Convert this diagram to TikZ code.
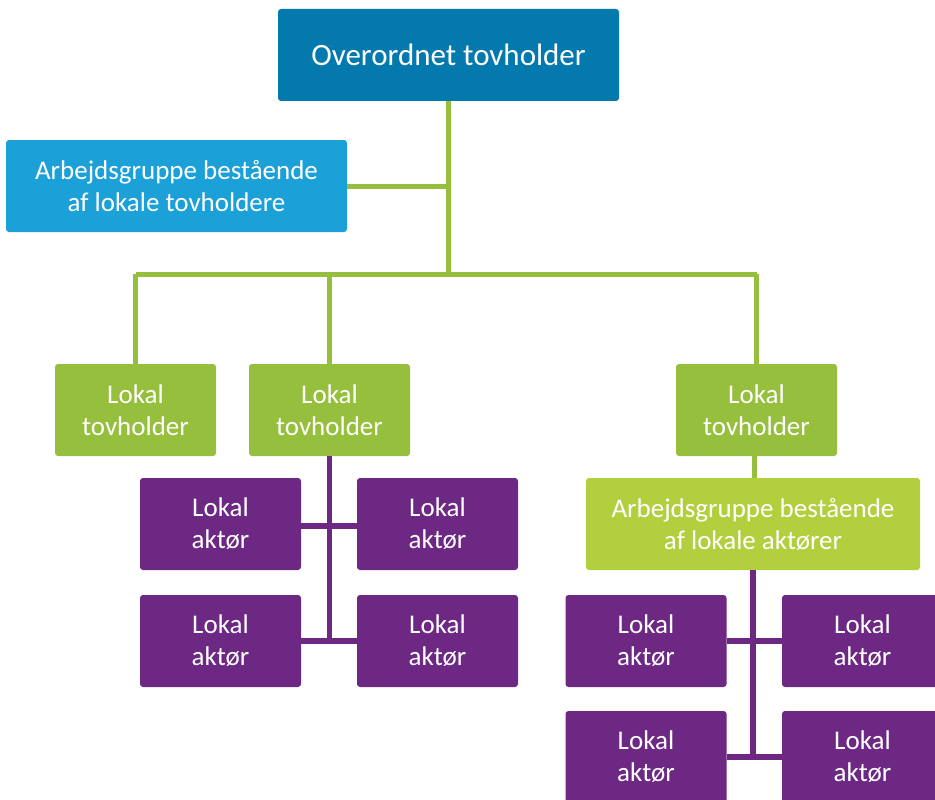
\documentclass[tikz,border=0pt]{standalone}
\usepackage{fontspec}
\setmainfont{Carlito}
\definecolor{topblue}{HTML}{0479AD}
\definecolor{lightblue}{HTML}{1BA0D8}
\definecolor{leafgreen}{HTML}{96BF3D}
\definecolor{limegreen}{HTML}{B2CF3E}
\definecolor{plum}{HTML}{6C2883}
\tikzset{
  box/.style={rectangle, rounded corners=3pt, text=white, align=center, inner sep=0pt,
    font=\fontsize{27}{32}\selectfont, minimum height=92pt},
  wide/.style={box, minimum width=341pt},
  small/.style={box, minimum width=161pt},
  gline/.style={draw=leafgreen, line width=5pt},
  pline/.style={draw=plum, line width=5.5pt},
}
\begin{document}
\begin{tikzpicture}[x=1pt,y=-1pt]
\useasboundingbox (0,0) rectangle (935,800);
\node[wide, fill=topblue, font=\fontsize{31}{36}\selectfont] (top) at (448.5,55) {Overordnet tovholder};
\node[wide, fill=lightblue] (ag) at (176.5,186) {Arbejdsgruppe bestående\\af lokale tovholdere};
\node[small, fill=leafgreen] (t1) at (135.5,410) {Lokal\\tovholder};
\node[small, fill=leafgreen] (t2) at (329.5,410) {Lokal\\tovholder};
\node[small, fill=leafgreen] (t3) at (756.5,410) {Lokal\\tovholder};
\node[small, fill=plum] (p1) at (220.5,524) {Lokal\\aktør};
\node[small, fill=plum] (p2) at (437.5,524) {Lokal\\aktør};
\node[small, fill=plum] (p3) at (220.5,641) {Lokal\\aktør};
\node[small, fill=plum] (p4) at (437.5,641) {Lokal\\aktør};
\node[box, minimum width=334pt, fill=limegreen] (lg) at (753,524) {Arbejdsgruppe bestående\\af lokale aktører};
\node[small, fill=plum] (q1) at (646,641) {Lokal\\aktør};
\node[small, fill=plum] (q2) at (862.5,641) {Lokal\\aktør};
\node[small, fill=plum] (q3) at (646,757) {Lokal\\aktør};
\node[small, fill=plum] (q4) at (862.5,757) {Lokal\\aktør};
\coordinate (j1) at (448,274);
% green connectors
\draw[gline] (top.south -| j1) -- (j1);
\draw[gline] (ag.east) -- (ag.east -| j1);
\draw[gline] (t1.north |- j1) -- (t3.north |- j1);
\draw[gline] (t1.north |- j1) -- (t1.north);
\draw[gline] (t2.north |- j1) -- (t2.north);
\draw[gline] (t3.north |- j1) -- (t3.north);
\draw[gline] ([xshift=-2.5pt]t3.south) -- ([xshift=-2.5pt]t3.south |- lg.north);
% purple connectors left
\draw[pline] (t2.south) -- (t2.south |- p3.east);
\draw[pline] ([yshift=-2pt]p1.east) -- ([yshift=-2pt]p2.west);
\draw[pline] (p3.east) -- (p4.west);
% purple connectors right
\draw[pline] (lg.south) -- (lg.south |- q3.east);
\draw[pline] (q1.east) -- (q2.west);
\draw[pline] (q3.east) -- (q4.west);
\end{tikzpicture}
\end{document}
